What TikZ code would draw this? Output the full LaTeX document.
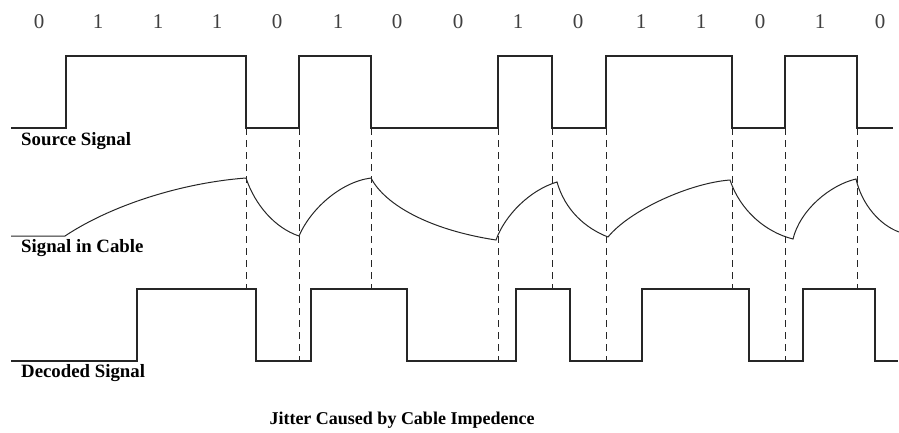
\documentclass[tikz,border=0pt]{standalone}
\usepackage{fontspec}
\setmainfont{Liberation Serif}

\begin{document}
\begin{tikzpicture}[
    x=1pt, y=-1pt,
    every node/.style={inner sep=0pt},
    wave/.style={line width=1.2pt, black!85},
    cable/.style={line width=1pt, black!85},
    guide/.style={line width=1pt, black!85, dash pattern=on 7pt off 5pt},
    bit/.style={font=\fontsize{21}{21}\selectfont, text=black!75},
    lab/.style={font=\fontsize{18.8}{19}\selectfont\bfseries, anchor=west},
  ]
  \useasboundingbox (0,0) rectangle (899,432);
  % bit values
  \foreach \x/\b [count=\i] in {39/0, 98/1, 158/1, 217/1, 277/0, 338/1, 397/0, 458/0,
                                518/1, 578/0, 641/1, 701/1, 760/0, 820/1, 880/0}
    \node[bit] (bit\i) at (\x,22) {\b};
  % source signal
  \draw[wave] (11,128) -| (66,56) -| (246,128) -| (299,56) -| (371,128) -| (498,56)
    -| (552,128) -| (606,56) -| (732,128) -| (785,56) -| (857,128) -- (893,128);
  % signal in cable
  \draw[cable] (11,236) -- (65,236)
    .. controls (110,206) and (180,183) .. (246,178)
    .. controls (255,205) and (275,228) .. (299,236)
    .. controls (310,210) and (340,182) .. (371,178)
    .. controls (385,205) and (430,230) .. (496,240)
    .. controls (505,215) and (530,190) .. (557,182)
    .. controls (565,210) and (585,228) .. (608,237)
    .. controls (630,210) and (690,183) .. (730,180)
    .. controls (740,210) and (765,232) .. (793,239)
    .. controls (800,210) and (830,185) .. (856,179)
    .. controls (862,205) and (880,225) .. (899,232);
  % decoded signal
  \draw[wave] (11,361) -| (137,289) -| (256,361) -| (311,289) -| (407,361) -| (516,289)
    -| (570,361) -| (642,289) -| (749,361) -| (803,289) -| (875,361) -- (898,361);
  % edges of the source signal
  \foreach \x/\y in {246/289, 299/361, 371/289, 498/361, 552/289,
                     606/361, 732/289, 785/361, 857/289}
    \draw[guide] (\x,128) -- (\x,\y);
  % labels
  \node[lab] (src) at (21,141) {Source Signal};
  \node[lab] (cbl) at (21,248) {Signal in Cable};
  \node[lab] (dec) at (21,373) {Decoded Signal};
  \node[lab, font=\fontsize{18}{18}\selectfont\bfseries, anchor=center] (cap) at (402,420)
    {Jitter Caused by Cable Impedence};
\end{tikzpicture}
\end{document}
